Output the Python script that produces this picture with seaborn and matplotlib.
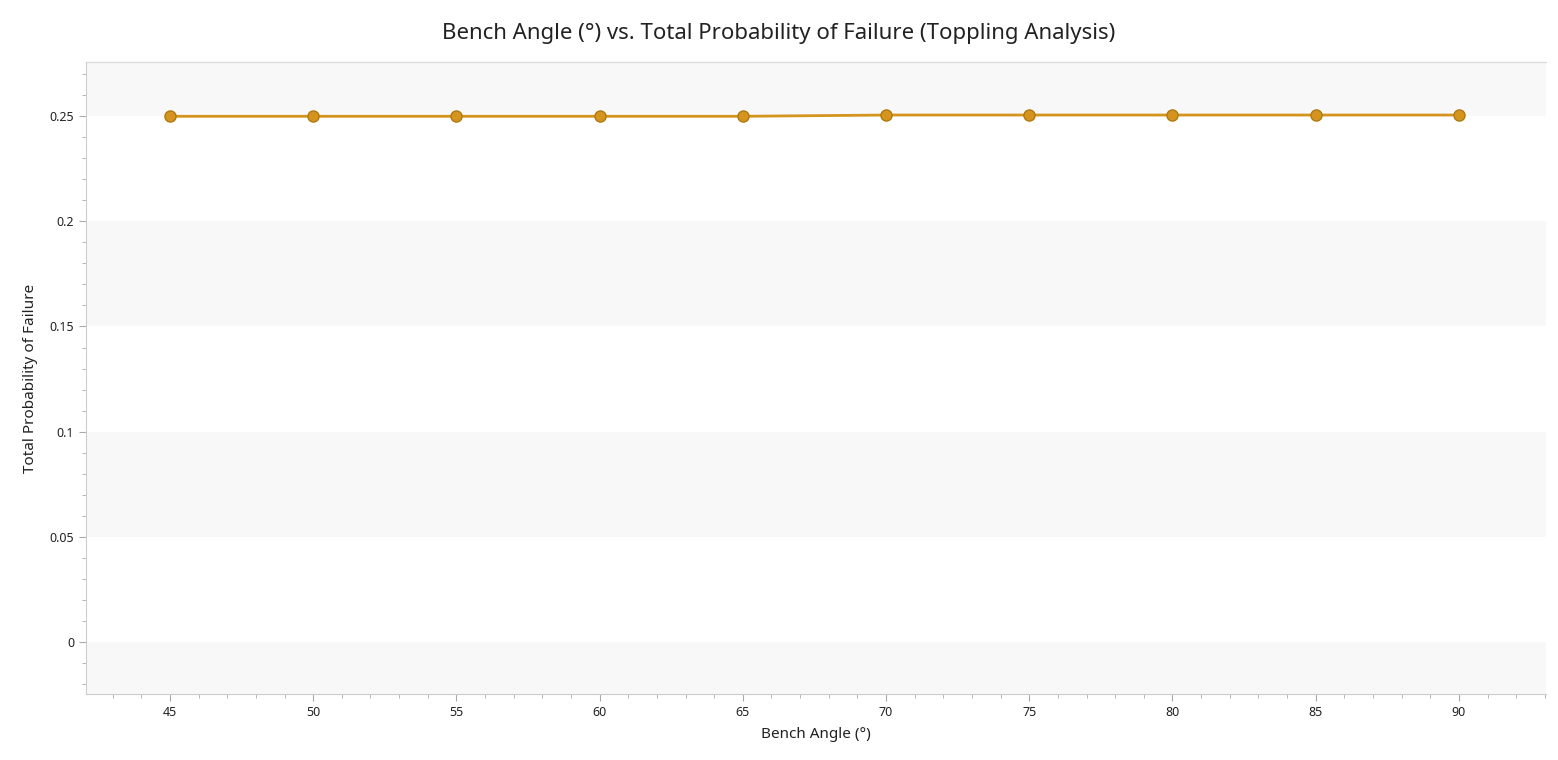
import matplotlib
matplotlib.use("Agg")
import matplotlib.pyplot as plt
import seaborn as sns
import pandas as pd
from matplotlib.ticker import MultipleLocator, FuncFormatter

angles = [45, 50, 55, 60, 65, 70, 75, 80, 85, 90]
pof = [0.2499, 0.2499, 0.2499, 0.2499, 0.2499, 0.2505, 0.2505, 0.2505, 0.2505, 0.2505]
df = pd.DataFrame({"angle": angles, "pof": pof})

sns.set_style("white")
plt.rcParams['font.family'] = ['Noto Sans', 'DejaVu Sans']
fig = plt.figure(figsize=(15.58, 7.60), dpi=100)
ax = fig.add_axes([0.0552, 0.0868, 0.9371, 0.8316])
for lo in [-0.05, 0.05, 0.15, 0.25]:
    ax.axhspan(lo, lo + 0.05, color="#f8f8f8", zorder=0, lw=0)
sns.lineplot(data=df, x="angle", y="pof", ax=ax, color="#d4941e", lw=2,
             marker="o", markersize=8, markeredgecolor="#b07a10", markeredgewidth=1)
ax.set_xlim(42.07, 93.04)
ax.set_ylim(-0.0247, 0.2757)
ax.xaxis.set_major_locator(MultipleLocator(5))
ax.xaxis.set_minor_locator(MultipleLocator(1))
ax.yaxis.set_major_locator(MultipleLocator(0.05))
ax.yaxis.set_minor_locator(MultipleLocator(0.01))
ax.yaxis.set_major_formatter(FuncFormatter(lambda v, p: f"{v:g}" if abs(v) > 1e-9 else "0"))
ax.tick_params(which="both", direction="out", color="#aaaaaa", labelsize=9, labelcolor="#222222")
ax.tick_params(which="major", length=5, bottom=True, left=True)
ax.tick_params(which="minor", length=3, bottom=True, left=True)
for s in ["top", "right"]:
    ax.spines[s].set_visible(False)
for s in ["left", "bottom"]:
    ax.spines[s].set_color("#cccccc")
ax.plot([42.07, 93.04], [0.2757, 0.2757], color="#dddddd", lw=1, clip_on=False, zorder=0)
ax.set_xlabel("Bench Angle (°)", fontsize=11, color="#222222", labelpad=6)
ax.set_ylabel("Total Probability of Failure", fontsize=11, color="#222222", labelpad=8)
fig.suptitle("Bench Angle (°) vs. Total Probability of Failure (Toppling Analysis)",
             fontsize=16, color="#222222", y=0.97)
fig.savefig("out.png", dpi=100)
